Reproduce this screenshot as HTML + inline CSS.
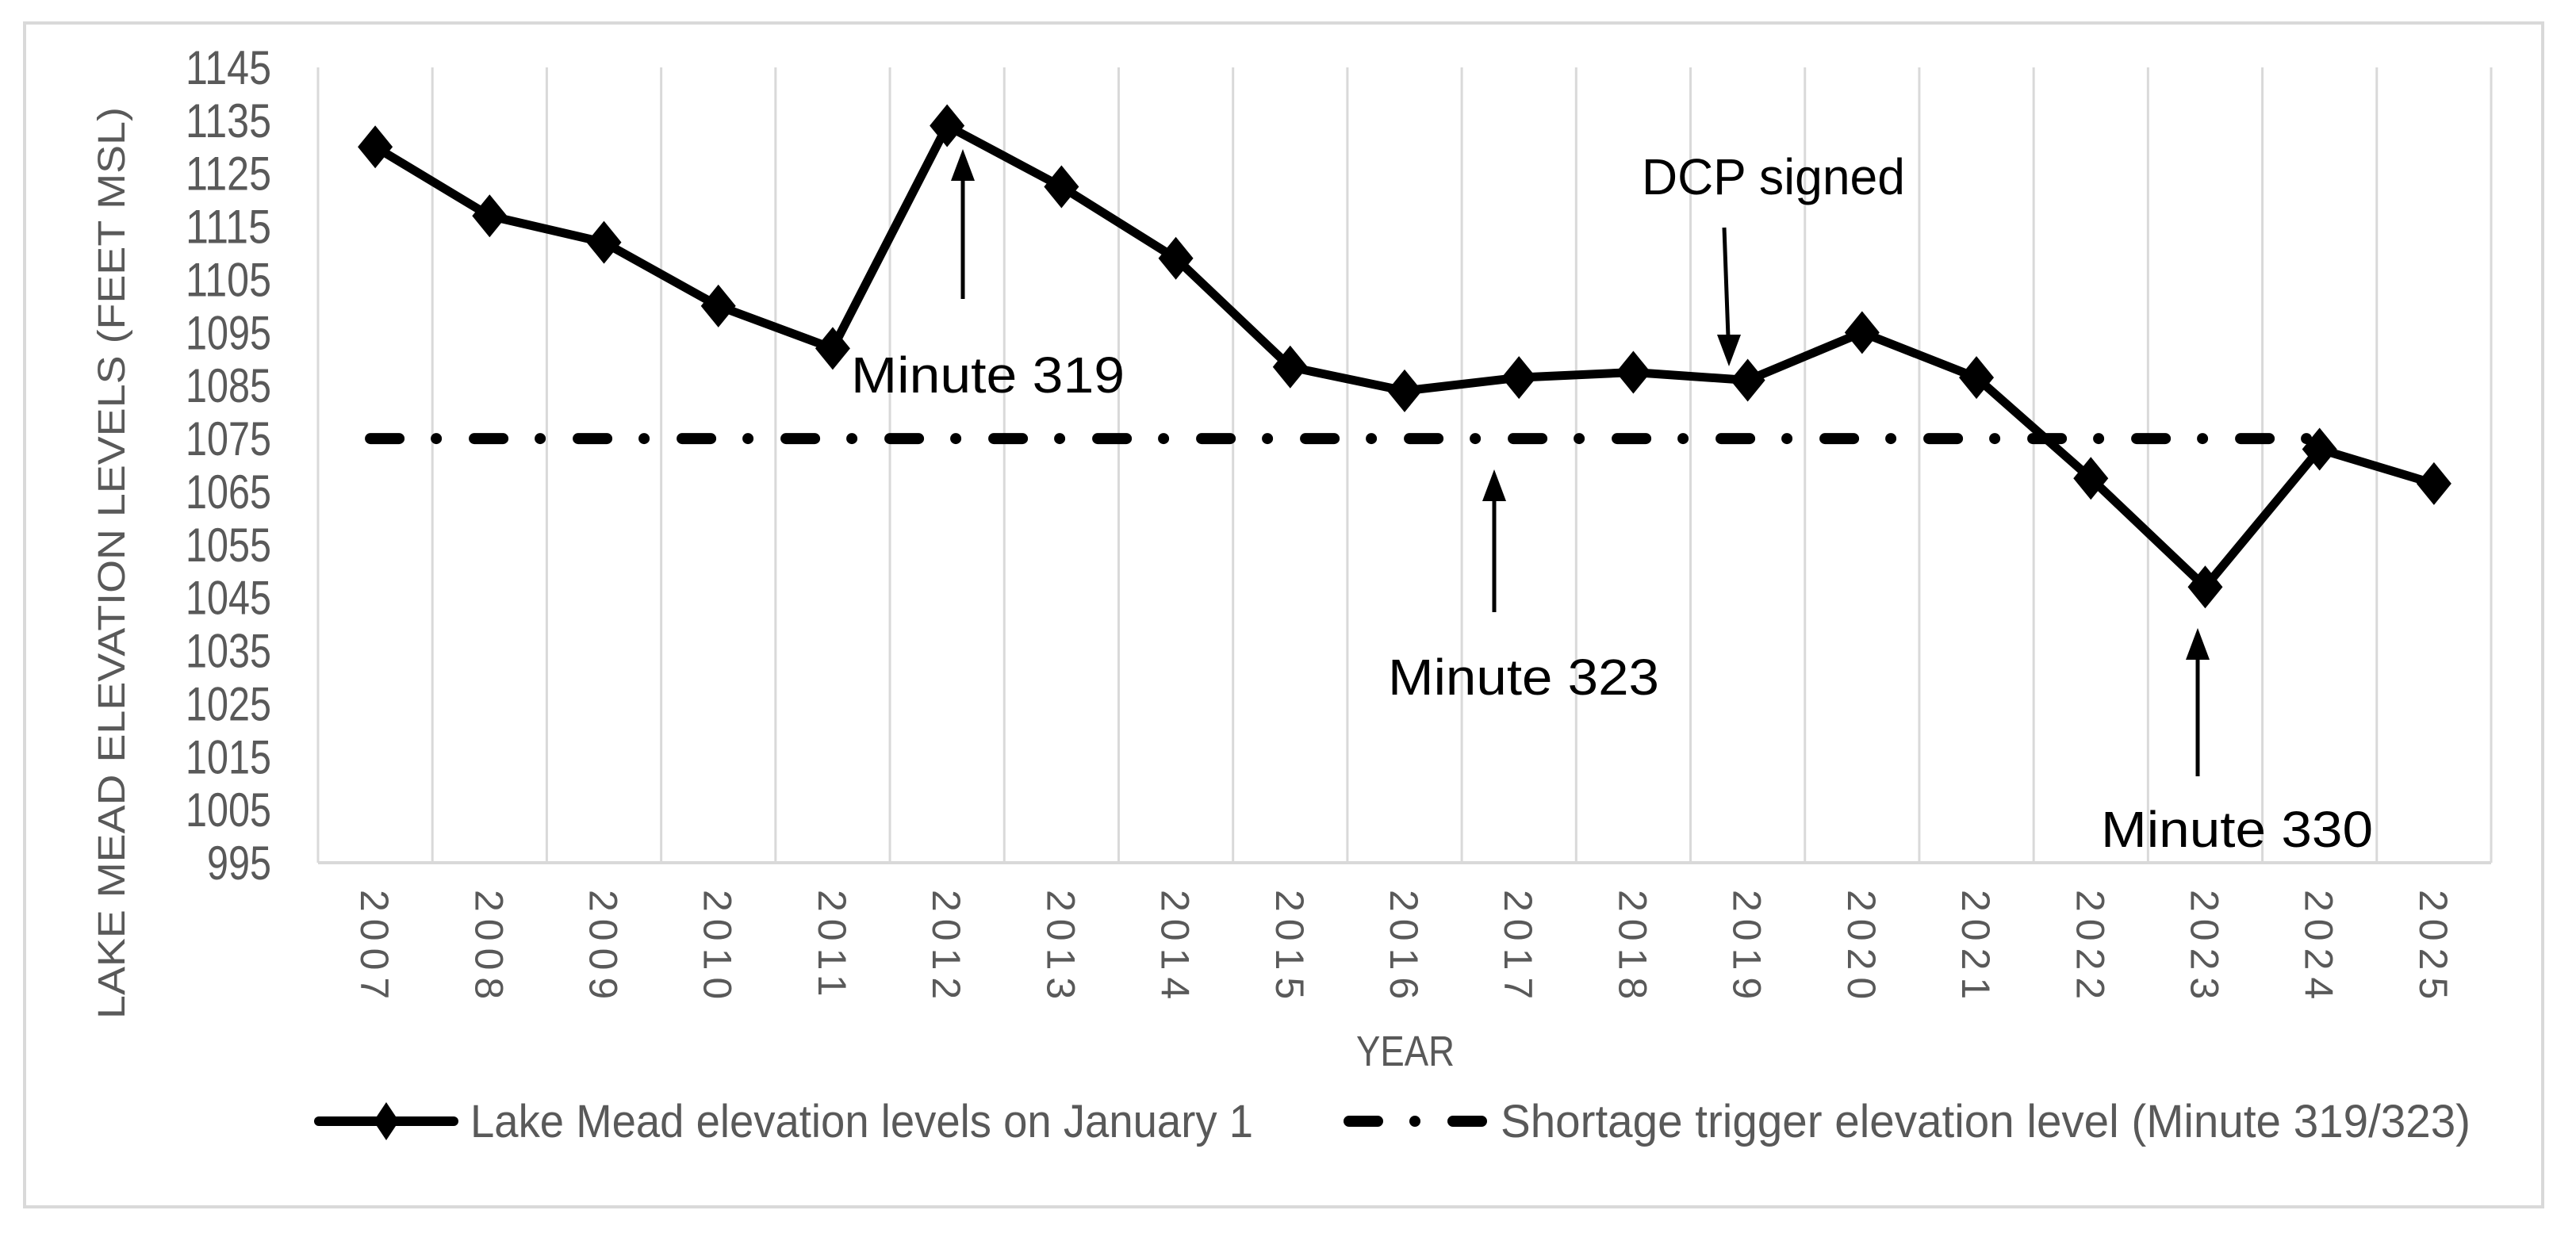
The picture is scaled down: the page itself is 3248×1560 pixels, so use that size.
<!DOCTYPE html>
<html><head><meta charset="utf-8"><style>
html,body{margin:0;padding:0;background:#fff;}
svg{display:block;}
</style></head><body>
<svg id="chart" width="3248" height="1560" viewBox="0 0 3248 1560" xmlns="http://www.w3.org/2000/svg" font-family="'Liberation Sans', sans-serif">
<rect x="31" y="29" width="3175" height="1493" fill="#fff" stroke="#d9d9d9" stroke-width="4"/>
<g id="grid"></g>
<g id="yticks"></g>
<g id="xticks"></g>
<g id="series"></g>
<text transform="translate(157,710) rotate(-90)" text-anchor="middle" font-size="48" fill="#595959" textLength="1150" lengthAdjust="spacingAndGlyphs">LAKE MEAD ELEVATION LEVELS (FEET MSL)</text>
<text x="1772" y="1344" text-anchor="middle" font-size="54" fill="#595959" textLength="124" lengthAdjust="spacingAndGlyphs">YEAR</text>
<g>
  <g>
    <line x1="402" y1="1414" x2="572" y2="1414" stroke="#000" stroke-width="12" stroke-linecap="round"/>
    <polygon points="487,1390 503,1414 487,1438 471,1414" fill="#000"/>
    <text x="593" y="1434" font-size="58" fill="#595959" textLength="987" lengthAdjust="spacingAndGlyphs">Lake Mead elevation levels on January 1</text>
  </g>
  <g>
    <line x1="1701" y1="1414" x2="1869" y2="1414" stroke="#000" stroke-width="14" stroke-linecap="round" stroke-dasharray="36 47 0 48"/>
    <text x="1892" y="1434" font-size="58" fill="#595959" textLength="1223" lengthAdjust="spacingAndGlyphs">Shortage trigger elevation level (Minute 319/323)</text>
  </g>
</g>
<g>
  <g>
    <line x1="1214" y1="377" x2="1214" y2="225" stroke="#000" stroke-width="5"/>
    <polygon points="1214,188 1199,228 1229,228" fill="#000"/>
    <text x="1073" y="495" font-size="64" fill="#000" textLength="345" lengthAdjust="spacingAndGlyphs">Minute 319</text>
  </g>
  <g>
    <line x1="1884" y1="772" x2="1884" y2="628" stroke="#000" stroke-width="5"/>
    <polygon points="1884,592 1869,632 1899,632" fill="#000"/>
    <text x="1750" y="876" font-size="64" fill="#000" textLength="342" lengthAdjust="spacingAndGlyphs">Minute 323</text>
  </g>
  <g>
    <line x1="2174" y1="287" x2="2179" y2="425" stroke="#000" stroke-width="5"/>
    <polygon points="2180,462 2165,422 2195,422" fill="#000"/>
    <text x="2070" y="245" font-size="64" fill="#000" textLength="332" lengthAdjust="spacingAndGlyphs">DCP signed</text>
  </g>
  <g>
    <line x1="2771" y1="979" x2="2771" y2="828" stroke="#000" stroke-width="5"/>
    <polygon points="2771,792 2756,832 2786,832" fill="#000"/>
    <text x="2649" y="1068" font-size="64" fill="#000" textLength="343" lengthAdjust="spacingAndGlyphs">Minute 330</text>
  </g>
</g>
</svg>
<script>
const years = ["2007","2008","2009","2010","2011","2012","2013","2014","2015","2016","2017","2018","2019","2020","2021","2022","2023","2024","2025"];
const elevations = [1130,1117,1112,1100,1092,1134,1122.5,1109,1088.5,1084,1086.5,1087.5,1086,1095,1086.5,1067.5,1047,1073,1066.5];
const triggerLevel = [1075];
const triggerSpan = ["2007","2024"];
const yTicks = [995,1005,1015,1025,1035,1045,1055,1065,1075,1085,1095,1105,1115,1125,1135,1145];

const NS = "http://www.w3.org/2000/svg";
const plotL = 401, plotR = 3141, plotT = 85, plotB = 1088;
const yMin = 995, yMax = 1145;
const band = (plotR - plotL) / years.length;
function xPos(cat){ return plotL + (years.indexOf(cat) + 0.5) * band; }
function yPos(v){ return plotB - (v - yMin) / (yMax - yMin) * (plotB - plotT); }
function mk(tag, attrs, parent){ const e = document.createElementNS(NS, tag); for (const k in attrs) e.setAttribute(k, attrs[k]); parent.appendChild(e); return e; }

const grid = document.getElementById('grid');
for (let i = 0; i <= years.length; i++) {
  const x = plotL + i * band;
  const gl = mk('line', {x1:x, y1:plotT, x2:x, y2:plotB, stroke:'#d9d9d9', 'stroke-width':3}, grid);
  
  
}
const axis = mk('line', {x1:plotL, y1:plotB, x2:plotR, y2:plotB, stroke:'#d9d9d9', 'stroke-width':4}, grid);



const yt = document.getElementById('yticks');
yTicks.forEach(v => {
  const t = mk('text', {x:342, y:yPos(v) + 21, 'text-anchor':'end', 'font-size':60, fill:'#595959', textLength: String(v).length * 27, lengthAdjust:'spacingAndGlyphs'}, yt);
  
  
  t.textContent = v;
});

const xt = document.getElementById('xticks');
years.forEach(y => {
  const x = xPos(y);
  const t = mk('text', {transform:`translate(${x - 18},1122) rotate(90)`, 'font-size':50, fill:'#595959', 'letter-spacing':9}, xt);
  
  
  t.textContent = y;
});

const s = document.getElementById('series');
const ty = yPos(triggerLevel[0]);
const trig = mk('line', {x1:xPos(triggerSpan[0]) - 6, y1:ty, x2:xPos(triggerSpan[1]), y2:ty, stroke:'#000', 'stroke-width':14, 'stroke-linecap':'round', 'stroke-dasharray':'36 47 0 48'}, s);



const pts = years.map((y, i) => [xPos(y), yPos(elevations[i])]);
const line = mk('polyline', {points: pts.map(p => p.join(',')).join(' '), fill:'none', stroke:'#000', 'stroke-width':11, 'stroke-linejoin':'round'}, s);


pts.forEach(p => {
  const d = mk('polygon', {points:`${p[0]},${p[1]-27} ${p[0]+22},${p[1]} ${p[0]},${p[1]+27} ${p[0]-22},${p[1]}`, fill:'#000'}, s);
  
  
});
</script>
</body></html>
